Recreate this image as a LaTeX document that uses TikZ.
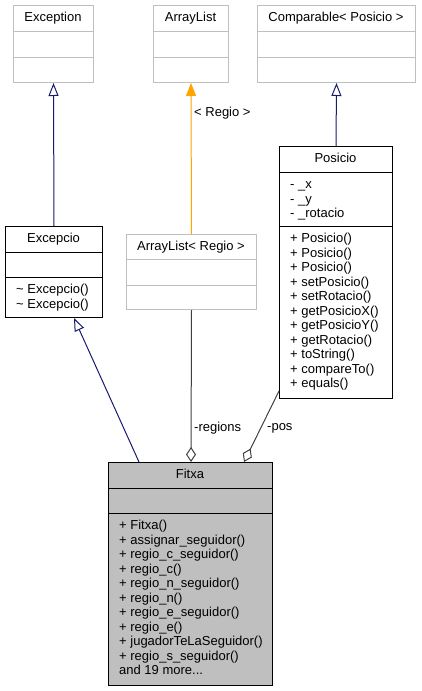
\documentclass[tikz,border=0pt]{standalone}
\usepackage{fontspec}
\setmainfont{Liberation Sans}
\usetikzlibrary{arrows.meta,calc}
\definecolor{extgray}{HTML}{BFBFBF}
\definecolor{navyline}{HTML}{191970}
\definecolor{assocline}{HTML}{404040}
\definecolor{tmplline}{HTML}{FFA500}
\begin{document}
\begin{tikzpicture}[x=1pt,y=-1pt,
  font=\fontsize{13}{14.5}\selectfont,
  cls/.style={draw=black, line width=1pt, inner sep=0pt, anchor=north west, fill=white},
  ext/.style={cls, draw=extgray},
  title/.style={anchor=base, inner sep=0pt},
  members/.style={anchor=north west, inner sep=0pt, align=left},
  divider/.style={line width=1pt, draw=black},
  extdivider/.style={line width=1pt, draw=extgray},
  inherit/.style={draw=navyline, line width=1pt, -{Triangle[open,length=13pt,width=10pt]}},
  tmpl/.style={draw=tmplline, line width=1pt, -{Triangle[length=13pt,width=10pt]}},
  comp/.style={draw=assocline, line width=1pt, -{Diamond[open,length=15pt,width=10pt]}},
  lbl/.style={anchor=west, inner sep=0pt}
]
\useasboundingbox (0,0) rectangle (421,691);

% Exception
\node[ext, minimum width=80pt, minimum height=77pt] (exception) at (13,5) {};
\draw[extdivider] (13,31) -- (93,31) (13,57) -- (93,57);
\node[title] (exception-t) at (53,21) {Exception};

% ArrayList
\node[ext, minimum width=75pt, minimum height=77pt] (arraylist) at (153,5) {};
\draw[extdivider] (153,31) -- (228,31) (153,57) -- (228,57);
\node[title] (arraylist-t) at (190.5,21) {ArrayList};

% Comparable
\node[ext, minimum width=158pt, minimum height=77pt] (comparable) at (257,5) {};
\draw[extdivider] (257,31) -- (415,31) (257,57) -- (415,57);
\node[title] (comparable-t) at (336,21) {Comparable< Posicio >};

% Excepcio
\node[cls, minimum width=97pt, minimum height=91pt] (excepcio) at (5,226) {};
\draw[divider] (5,252) -- (102,252) (5,277) -- (102,277);
\node[title] (excepcio-t) at (53.5,242) {Excepcio};
\node[members] (excepcio-m) at (16,283.4) {\strut\textasciitilde{} Excepcio()\\\strut\textasciitilde{} Excepcio()};

% ArrayList< Regio >
\node[ext, minimum width=130pt, minimum height=75pt] (arraylistregio) at (126,234) {};
\draw[extdivider] (126,259) -- (256,259) (126,285) -- (256,285);
\node[title] (arraylistregio-t) at (191,250) {ArrayList< Regio >};

% Posicio
\node[cls, minimum width=113pt, minimum height=252pt] (posicio) at (279,146) {};
\draw[divider] (279,172) -- (392,172) (279,226) -- (392,226);
\node[title] (posicio-t) at (335.5,162) {Posicio};
\node[members] (posicio-a) at (290,178.4) {\strut- \_x\\\strut- \_y\\\strut- \_rotacio};
\node[members] (posicio-m) at (290,232.4) {\strut+ Posicio()\\\strut+ Posicio()\\\strut+ Posicio()\\\strut+ setPosicio()\\\strut+ setRotacio()\\\strut+ getPosicioX()\\\strut+ getPosicioY()\\\strut+ getRotacio()\\\strut+ toString()\\\strut+ compareTo()\\\strut+ equals()};

% Fitxa
\node[cls, fill=extgray, minimum width=164pt, minimum height=223pt] (fitxa) at (108,462) {};
\draw[divider] (108,488) -- (272,488) (108,513) -- (272,513);
\node[title] (fitxa-t) at (190,478) {Fitxa};
\node[members] (fitxa-m) at (119,519.4) {\strut+ Fitxa()\\\strut+ assignar\_seguidor()\\\strut+ regio\_c\_seguidor()\\\strut+ regio\_c()\\\strut+ regio\_n\_seguidor()\\\strut+ regio\_n()\\\strut+ regio\_e\_seguidor()\\\strut+ regio\_e()\\\strut+ jugadorTeLaSeguidor()\\\strut+ regio\_s\_seguidor()\\\strut and 19 more...};

% connectors
\draw[inherit] (excepcio.north) -- (exception.south);
\draw[tmpl] (arraylistregio.north) -- (arraylist.south);
\node[lbl] (tmpl-l) at (194,113) {< Regio >};
\draw[inherit] (posicio.north) -- (comparable.south);
\draw[inherit] ($(fitxa.north west)+(31,0)$) -- ($(excepcio.south west)+(69,0)$);
\draw[comp] (arraylistregio.south) -- ($(fitxa.north west)+(83,0)$);
\node[lbl] (regions-l) at (194,428) {-regions};
\draw[comp] ($(posicio.south west)+(0,-8)$) -- ($(fitxa.north west)+(136,0)$);
\node[lbl] (pos-l) at (267,428) {-pos};
\end{tikzpicture}
\end{document}
